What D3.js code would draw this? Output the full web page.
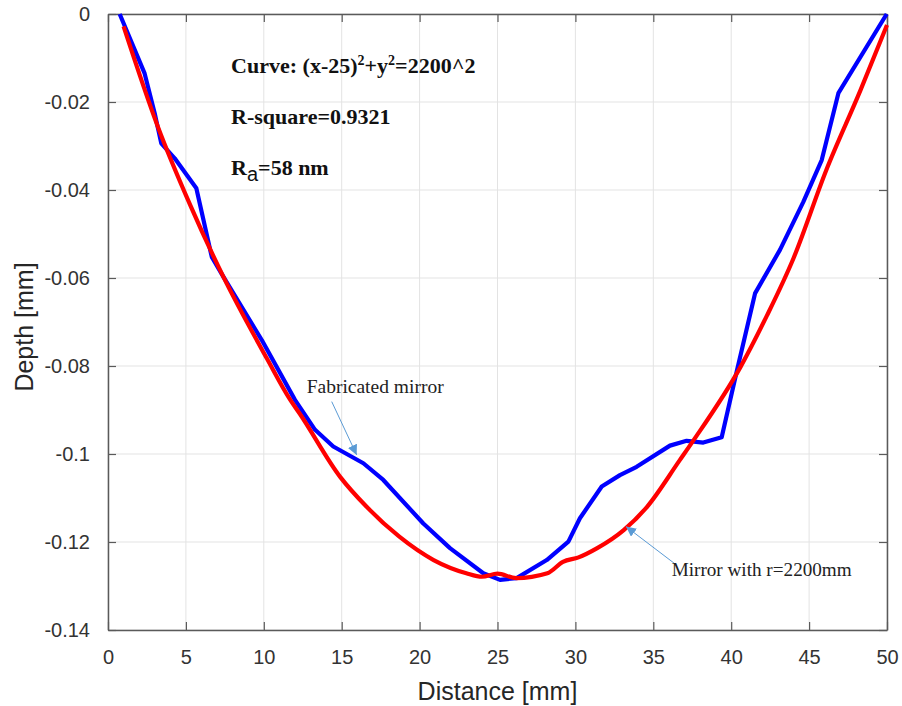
<!DOCTYPE html>
<html>
<head>
<meta charset="utf-8">
<script src="https://cdn.jsdelivr.net/npm/d3@7"></script>
<style>
  body { margin: 0; background: #fff; }
  .tick text { font-family: "Liberation Sans", Arial, sans-serif; font-size: 20px; fill: #333; }
</style>
</head>
<body>
<div id="chart"></div>
<script>
// measured profile (blue)
const blueX = [0.75, 2.35, 3.0, 3.42, 4.28, 5.67, 6.66, 7.4, 9.87, 12.0, 13.29, 14.46, 16.39, 17.67, 20.24, 21.95, 24.09, 25.16, 26.23, 28.16, 29.55, 30.29, 31.69, 32.86, 33.93, 36.07, 37.14, 38.21, 39.39, 40.35, 41.53, 43.13, 44.63, 45.81, 46.88, 49.98];
const blueY = [0, -0.0135, -0.0226, -0.0294, -0.0328, -0.0396, -0.0552, -0.0597, -0.0741, -0.0877, -0.0945, -0.0983, -0.1021, -0.1059, -0.1158, -0.1214, -0.1271, -0.1286, -0.1282, -0.1241, -0.1199, -0.1146, -0.1074, -0.1048, -0.1029, -0.0981, -0.0970, -0.0974, -0.0962, -0.0813, -0.0635, -0.0536, -0.0427, -0.0332, -0.0180, 0];

// fitted mirror (red)
const redX = [1.0, 3.2, 5.3, 7.4, 10.2, 11.7, 12.3, 14.9, 16.6, 18.7, 20.9, 23.0, 24.0, 25.0, 26.2, 28.2, 29.2, 30.2, 31.4, 33.1, 34.6, 36.7, 37.6, 40.6, 42.3, 44.0, 46.1, 48.3, 50.0];
const redY = [-0.0028, -0.0256, -0.0436, -0.0597, -0.0783, -0.0877, -0.0908, -0.1052, -0.1120, -0.1188, -0.1241, -0.1271, -0.1279, -0.1272, -0.1282, -0.1271, -0.1245, -0.1235, -0.1214, -0.1173, -0.1120, -0.1014, -0.0968, -0.0802, -0.0685, -0.0555, -0.0355, -0.0173, -0.0025];

const xTicks = [0, 5, 10, 15, 20, 25, 30, 35, 40, 45, 50];
const yTicks = [0, -0.02, -0.04, -0.06, -0.08, -0.1, -0.12, -0.14];

let margin = { top: 14, right: 15, bottom: 76, left: 108 },
    width = 902 - margin.left - margin.right,
    height = 706 - margin.top - margin.bottom;

let svg = d3.select("#chart").append("svg")
    .attr("width", 902)
    .attr("height", 706)
    .append("g")
    .attr("transform", "translate(" + margin.left + "," + margin.top + ")");

let x = d3.scaleLinear().domain([0, 50]).range([0, width]);
let y = d3.scaleLinear().domain([-0.14, 0]).range([height, 0]);

// grid
svg.append("g")
    .selectAll("line")
    .data(xTicks)
    .enter().append("line")
    .attr("x1", d => x(d)).attr("x2", d => x(d))
    .attr("y1", 0).attr("y2", height)
    .attr("stroke", "#e3e3e3").attr("stroke-width", 1);
svg.append("g")
    .selectAll("line")
    .data(yTicks)
    .enter().append("line")
    .attr("x1", 0).attr("x2", width)
    .attr("y1", d => y(d)).attr("y2", d => y(d))
    .attr("stroke", "#e3e3e3").attr("stroke-width", 1);

// axes (ticks inward, box on)
function styleAxis(g) {
    g.select(".domain").attr("stroke", "#5a5a5a").attr("stroke-width", 1.5);
    g.selectAll(".tick line").attr("stroke", "#5a5a5a").attr("stroke-width", 1.2);
}

svg.append("g")
    .attr("transform", "translate(0," + height + ")")
    .call(d3.axisBottom(x).tickValues(xTicks).tickSize(-8).tickSizeOuter(0).tickPadding(20).tickFormat(d3.format("d")))
    .call(styleAxis);
svg.append("g")
    .call(d3.axisTop(x).tickValues(xTicks).tickSize(-8).tickSizeOuter(0).tickFormat(""))
    .call(styleAxis);
svg.append("g")
    .call(d3.axisLeft(y).tickValues(yTicks).tickSize(-8).tickSizeOuter(0).tickPadding(18).tickFormat(d => d === 0 ? "0" : String(d)))
    .call(styleAxis);
svg.append("g")
    .attr("transform", "translate(" + width + ",0)")
    .call(d3.axisRight(y).tickValues(yTicks).tickSize(-8).tickSizeOuter(0).tickFormat(""))
    .call(styleAxis);

svg.selectAll(".tick text").attr("fill", "#333");

// lines
let line = d3.line().x(d => x(d[0])).y(d => y(d[1]));
let smooth = d3.line().x(d => x(d[0])).y(d => y(d[1])).curve(d3.curveMonotoneX);

svg.append("path")
    .datum(blueX.map((v, i) => [v, blueY[i]]))
    .attr("fill", "none")
    .attr("stroke", "#0000ff")
    .attr("stroke-width", 4.2)
    .attr("stroke-linejoin", "round")
    .attr("d", line);

svg.append("path")
    .datum(redX.map((v, i) => [v, redY[i]]))
    .attr("fill", "none")
    .attr("stroke", "#ff0000")
    .attr("stroke-width", 4.2)
    .attr("stroke-linejoin", "round")
    .attr("d", smooth);

// axis titles
svg.append("text")
    .attr("x", width / 2)
    .attr("y", height + 70)
    .style("text-anchor", "middle")
    .style("font-family", "Liberation Sans, Arial, sans-serif")
    .style("font-size", "25px")
    .attr("fill", "#262626")
    .text("Distance [mm]");

svg.append("text")
    .attr("transform", "rotate(-90)")
    .attr("x", -313)
    .attr("y", -75)
    .style("text-anchor", "middle")
    .style("font-family", "Liberation Sans, Arial, sans-serif")
    .style("font-size", "25px")
    .attr("fill", "#262626")
    .text("Depth [mm]");

// equation annotations
let serif = "'Liberation Serif', 'Times New Roman', serif";
let t1 = svg.append("text")
    .attr("x", x(7.9)).attr("y", y(-0.0134))
    .style("font-family", serif).style("font-weight", "bold").style("font-size", "22px")
    .attr("fill", "#111");
t1.append("tspan").text("Curve: (x-25)");
t1.append("tspan").attr("dy", -8).style("font-size", "14px").text("2");
t1.append("tspan").attr("dy", 8).text("+y");
t1.append("tspan").attr("dy", -8).style("font-size", "14px").text("2");
t1.append("tspan").attr("dy", 8).text("=2200^2");

svg.append("text")
    .attr("x", x(7.9)).attr("y", y(-0.025))
    .style("font-family", serif).style("font-weight", "bold").style("font-size", "22px")
    .attr("fill", "#111")
    .text("R-square=0.9321");

let t3 = svg.append("text")
    .attr("x", x(7.9)).attr("y", y(-0.0366))
    .style("font-family", serif).style("font-weight", "bold").style("font-size", "22px")
    .attr("fill", "#111");
t3.append("tspan").text("R");
t3.append("tspan").attr("dy", 6).style("font-family", "Liberation Sans, Arial, sans-serif")
    .style("font-weight", "normal").style("font-size", "20px").text("a");
t3.append("tspan").attr("dy", -6).text("=58 nm");

// arrow annotations
svg.append("defs").append("marker")
    .attr("id", "head")
    .attr("viewBox", "0 0 10 10")
    .attr("refX", 10).attr("refY", 5)
    .attr("markerWidth", 10).attr("markerHeight", 10)
    .attr("markerUnits", "userSpaceOnUse")
    .attr("orient", "auto")
    .append("path")
    .attr("d", "M0,0 L10,5 L0,10 Z")
    .attr("fill", "#5b9bd5");

svg.append("line")
    .attr("x1", x(14.36)).attr("y1", y(-0.0881))
    .attr("x2", x(15.96)).attr("y2", y(-0.1002))
    .attr("stroke", "#5b9bd5").attr("stroke-width", 1)
    .attr("marker-end", "url(#head)");

svg.append("line")
    .attr("x1", x(36.33)).attr("y1", y(-0.1248))
    .attr("x2", x(33.25)).attr("y2", y(-0.1165))
    .attr("stroke", "#5b9bd5").attr("stroke-width", 1)
    .attr("marker-end", "url(#head)");

svg.append("text")
    .attr("x", x(12.75)).attr("y", y(-0.0847))
    .attr("dy", "0.35em")
    .attr("textLength", 137).attr("lengthAdjust", "spacingAndGlyphs")
    .style("font-family", serif).style("font-size", "18px")
    .attr("fill", "#222")
    .text("Fabricated mirror");

svg.append("text")
    .attr("x", x(36.18)).attr("y", y(-0.1264))
    .attr("dy", "0.35em")
    .attr("textLength", 180).attr("lengthAdjust", "spacingAndGlyphs")
    .style("font-family", serif).style("font-size", "18px")
    .attr("fill", "#222")
    .text("Mirror with r=2200mm");
</script>
</body>
</html>
